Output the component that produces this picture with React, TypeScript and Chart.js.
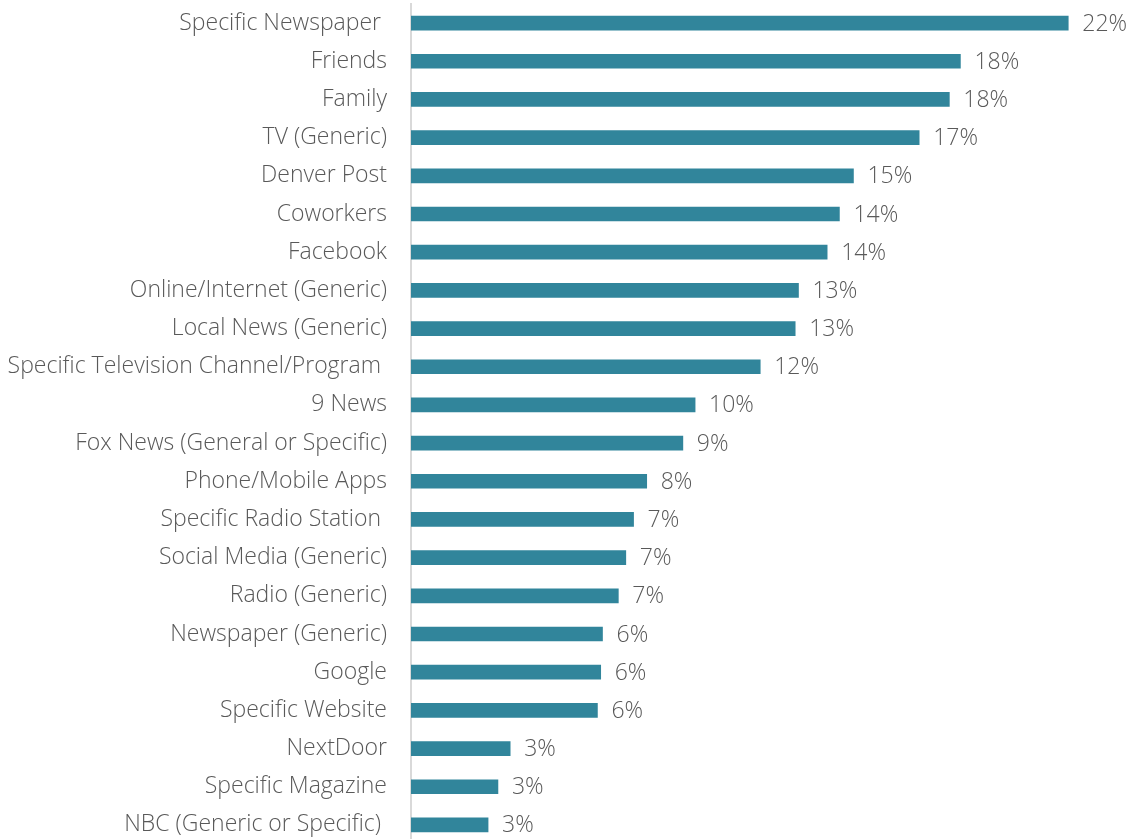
import React, { useEffect, useRef } from "react";
import { Chart, registerables } from "chart.js";

Chart.register(...registerables);

const categories = [
  "Specific Newspaper ",
  "Friends",
  "Family",
  "TV (Generic)",
  "Denver Post",
  "Coworkers",
  "Facebook",
  "Online/Internet (Generic)",
  "Local News (Generic)",
  "Specific Television Channel/Program ",
  "9 News",
  "Fox News (General or Specific)",
  "Phone/Mobile Apps",
  "Specific Radio Station ",
  "Social Media (Generic)",
  "Radio (Generic)",
  "Newspaper (Generic)",
  "Google",
  "Specific Website",
  "NextDoor",
  "Specific Magazine",
  "NBC (Generic or Specific) ",
];

const values = [
  22.0, 18.39, 18.02, 17.01, 14.81, 14.34, 13.93, 12.97, 12.86, 11.69, 9.51,
  9.1, 7.89, 7.45, 7.19, 6.94, 6.41, 6.35, 6.24, 3.32, 2.91, 2.58,
];

const valueLabels = [
  "22%", "18%", "18%", "17%", "15%", "14%", "14%", "13%", "13%", "12%", "10%",
  "9%", "8%", "7%", "7%", "7%", "6%", "6%", "6%", "3%", "3%", "3%",
];

const FONT = "'Open Sans', 'Segoe UI', sans-serif";

export default function App() {
  const ref = useRef<HTMLCanvasElement | null>(null);

  useEffect(() => {
    document.body.style.margin = "0";
    const canvas = ref.current;
    if (!canvas) return;

    const labelPlugin = {
      id: "valueLabels",
      afterDatasetsDraw(chart: any) {
        const ctx = chart.ctx;
        const meta = chart.getDatasetMeta(0);
        ctx.save();
        ctx.font = `300 23px ${FONT}`;
        ctx.fillStyle = "#595959";
        ctx.textAlign = "left";
        ctx.textBaseline = "middle";
        meta.data.forEach((bar: any, i: number) => {
          ctx.fillText(valueLabels[i], bar.x + 14, bar.y + 1);
        });
        ctx.restore();
      },
    };

    const chart = new Chart(canvas, {
      type: "bar",
      data: {
        labels: categories,
        datasets: [
          {
            data: values,
            backgroundColor: "#31859b",
            borderWidth: 0,
            barThickness: 14,
          },
        ],
      },
      options: {
        indexAxis: "y",
        responsive: false,
        animation: false,
        layout: { padding: { top: 4, bottom: 0, left: 0, right: 4 } },
        plugins: {
          legend: { display: false },
          tooltip: { enabled: false },
        },
        scales: {
          x: {
            display: false,
            min: 0,
            max: 24,
          },
          y: {
            afterFit(scale: any) {
              scale.width = 411;
              scale.paddingTop = 0;
              scale.paddingBottom = 0;
            },
            grid: { display: false, drawTicks: false },
            border: { display: true, color: "#d9d9d9", width: 2 },
            ticks: {
              padding: 24,
              color: "#595959",
              font: { family: FONT, size: 23, weight: "300" as any },
            },
          },
        },
      },
      plugins: [labelPlugin],
    });

    return () => chart.destroy();
  }, []);

  return (
    <div style={{ position: "absolute", left: 0, top: 0 }}>
      <canvas ref={ref} width={1132} height={844} style={{ display: "block" }} />
    </div>
  );
}
